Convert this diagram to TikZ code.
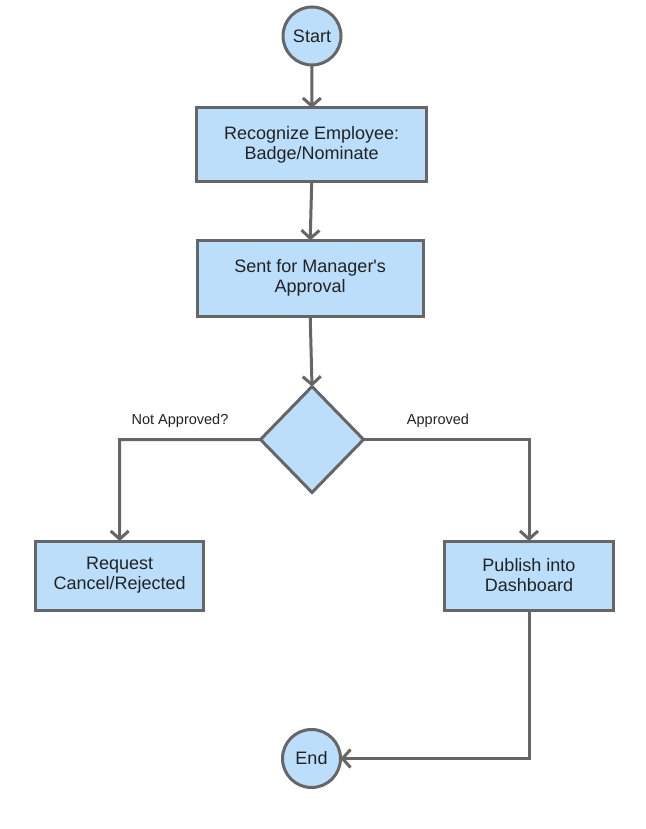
\documentclass[tikz,border=0pt]{standalone}
\usepackage{fontspec}
\setmainfont{Liberation Sans}
\usetikzlibrary{shapes.geometric,arrows.meta}
\definecolor{boxfill}{HTML}{BBDEFB}
\definecolor{edge}{HTML}{666666}
\definecolor{txt}{HTML}{222222}
\tikzset{
  base/.style={draw=edge, fill=boxfill, line width=3pt, text=txt, font=\fontsize{18}{20}\selectfont, align=center, inner sep=0pt, outer sep=0pt},
  term/.style={base, circle, minimum size=58pt},
  proc/.style={base, rectangle},
  dec/.style={base, diamond, minimum width=103pt, minimum height=106pt},
  conn/.style={draw=edge, line width=3pt, -{Straight Barb[length=8pt,width=18pt]}},
  lbl/.style={text=txt, font=\fontsize{14.5}{17}\selectfont, inner sep=0pt},
}
\begin{document}
\begin{tikzpicture}[x=1pt,y=-1pt]
\useasboundingbox (0,0) rectangle (645,829);
\node[term] (start) at (312,36) {Start};
\node[proc, minimum width=230pt, minimum height=74pt] (rec) at (311.7,145) {Recognize Employee:\\Badge/Nominate};
\node[proc, minimum width=226pt, minimum height=76pt] (sent) at (310.2,278.3) {Sent for Manager\textquotesingle s\\Approval};
\node[dec] (dia) at (312,439.5) {};
\node[proc, minimum width=168pt, minimum height=69pt] (req) at (119.7,575.5) {Request\\Cancel/Rejected};
\node[proc, minimum width=169pt, minimum height=69pt] (pub) at (529,575.5) {Publish into\\Dashboard};
\node[term] (end) at (311.5,758.5) {End};
\coordinate (lc) at (119.5,439.5);
\coordinate (rc) at (529,439.5);
\coordinate (bc) at (529,758.5);
\draw[conn] (start) -- (rec);
\draw[conn] (rec.south) -- (sent.north);
\draw[conn] (sent.south) -- (dia.north);
\draw[conn] (dia.west) -- (lc) -- (req.north);
\draw[conn] (dia.east) -- (rc) -- (pub.north);
\draw[conn] (pub.south) -- (bc) -- (end.east);
\node[lbl] (lna) at (180,421) {Not Approved?};
\node[lbl] (la) at (438,421) {Approved};
\end{tikzpicture}
\end{document}
